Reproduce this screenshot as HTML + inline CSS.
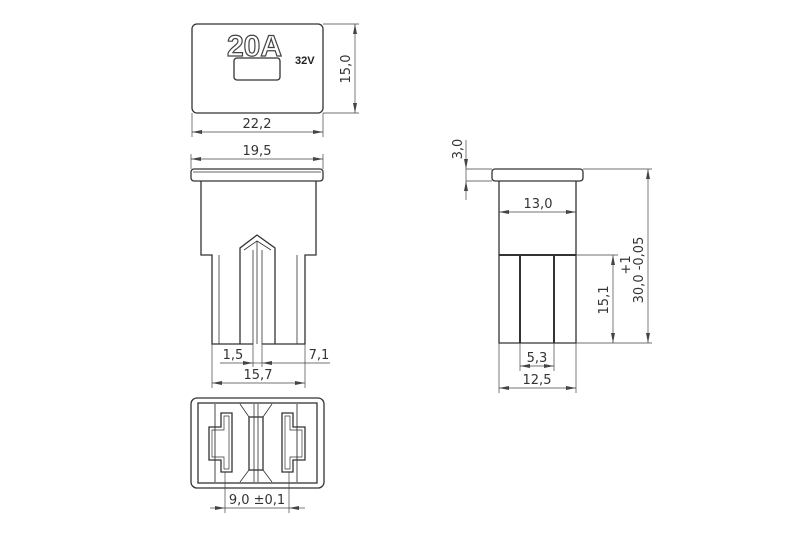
<!DOCTYPE html>
<html><head><meta charset="utf-8"><style>html,body{margin:0;padding:0;background:#fff}svg{display:block}text{font-family:"DejaVu Sans","Liberation Sans",sans-serif;font-size:13px;fill:#333}</style></head><body>
<svg width="800" height="533" viewBox="0 0 800 533" xmlns="http://www.w3.org/2000/svg">
<defs>
<marker id="a" viewBox="0 0 10 4" refX="10" refY="2" markerWidth="10" markerHeight="4" orient="auto-start-reverse" markerUnits="userSpaceOnUse"><path d="M0 0 L10 2 L0 4 Z" fill="#444"/></marker>
</defs>
<g fill="none" stroke="#333" stroke-width="1.3">
<rect x="192" y="24" width="131" height="89" rx="5"/>
<rect x="234" y="58" width="46" height="22" rx="3"/>
<rect x="191" y="169" width="132" height="12" rx="3"/>
<line x1="193" y1="172" x2="321" y2="172" stroke-width="0.7"/>
<path d="M201 181 V255 H212 V344 H253 M262 344 H305 V255 H316 V181"/>
<line x1="219" y1="255" x2="219" y2="344" stroke-width="0.8"/>
<line x1="297" y1="255" x2="297" y2="344" stroke-width="0.8"/>
<path d="M240 344 V248 L257 235 L275 248 V344"/>
<path d="M244 250 L257 241 L271 250 M257 241 V344 M253 250 V344 M262 250 V344" stroke-width="0.8"/>
<rect x="191" y="398" width="133" height="90" rx="6"/>
<rect x="198" y="403" width="119" height="80"/>
<line x1="215" y1="404" x2="215" y2="482" stroke-width="0.9"/>
<line x1="297" y1="404" x2="297" y2="482" stroke-width="0.9"/>
<path d="M221 413 H232 V472 H221 V460 H209 V427 H221 Z"/>
<path d="M224 416 H229 V469 H224 V457 H212 V430 H224 Z" stroke-width="0.7"/>
<path d="M293 413 H282 V472 H293 V460 H305 V427 H293 Z"/>
<path d="M290 416 H285 V469 H290 V457 H302 V430 H290 Z" stroke-width="0.7"/>
<rect x="249" y="417" width="14" height="53"/>
<path d="M240 404 L249 417 M272 404 L263 417 M240 482 L249 470 M272 482 L263 470 M254 404 V482 M258 404 V482" stroke-width="0.8"/>
<rect x="492" y="169" width="91" height="12" rx="3"/>
<path d="M499 181 V343 H576 V181"/>
<line x1="499" y1="255" x2="576" y2="255" stroke-width="2"/>
<line x1="520" y1="255" x2="520" y2="343" stroke-width="2"/>
<line x1="554" y1="255" x2="554" y2="343" stroke-width="2"/>
</g>
<g stroke="#444" stroke-width="0.7" fill="none">
<path d="M323 24 H359 M323 113 H359 M192 113 V137 M323 113 V137"/>
<path d="M191 169 V154 M323 169 V154"/>
<path d="M212 344 V388 M305 344 V388 M253 344 V367 M262 344 V367"/>
<path d="M225 472 V513 M289 472 V513"/>
<path d="M466 169 H492 M466 181 H492"/>
<path d="M576 255 H618 M583 169 H652 M576 343 H652"/>
<path d="M499 343 V393 M576 343 V393 M520 343 V371 M554 343 V371"/>
</g>
<g stroke="#444" stroke-width="0.7" fill="none" marker-start="url(#a)" marker-end="url(#a)">
<line x1="355" y1="24" x2="355" y2="113"/>
<line x1="192" y1="132" x2="323" y2="132"/>
<line x1="191" y1="159" x2="323" y2="159"/>
<line x1="212" y1="383" x2="305" y2="383"/>
<line x1="499" y1="212" x2="576" y2="212"/>
<line x1="613" y1="255" x2="613" y2="343"/>
<line x1="648" y1="169" x2="648" y2="343"/>
<line x1="520" y1="366" x2="554" y2="366"/>
<line x1="499" y1="388" x2="576" y2="388"/>
</g>
<g stroke="#444" stroke-width="0.7" fill="none" marker-end="url(#a)">
<line x1="220" y1="363" x2="253" y2="363"/>
<line x1="330" y1="363" x2="262" y2="363"/>
<line x1="210" y1="508" x2="225" y2="508"/>
<line x1="305" y1="508" x2="289" y2="508"/>
<line x1="466" y1="140" x2="466" y2="169"/>
<line x1="466" y1="200" x2="466" y2="181"/>
</g>
<line x1="253" y1="363" x2="262" y2="363" stroke="#444" stroke-width="0.7"/>
<line x1="225" y1="508" x2="289" y2="508" stroke="#444" stroke-width="0.7"/>
<line x1="466" y1="169" x2="466" y2="181" stroke="#444" stroke-width="0.7"/>
<text x="227" y="56" style="font-family:'Liberation Sans',sans-serif;font-size:30px;font-weight:bold;fill:#fff;stroke:#444;stroke-width:1.2">20A</text>
<text x="295" y="64" style="font-family:'Liberation Sans',sans-serif;font-size:11px;font-weight:bold;fill:#222">32V</text>
<text x="257" y="128" text-anchor="middle">22,2</text>
<text transform="translate(350,69) rotate(-90)" text-anchor="middle">15,0</text>
<text x="257" y="155" text-anchor="middle">19,5</text>
<text x="233" y="359" text-anchor="middle">1,5</text>
<text x="319" y="359" text-anchor="middle">7,1</text>
<text x="258" y="379" text-anchor="middle">15,7</text>
<text x="257" y="504" text-anchor="middle">9,0 ±0,1</text>
<text transform="translate(462,149) rotate(-90)" text-anchor="middle">3,0</text>
<text x="538" y="208" text-anchor="middle">13,0</text>
<text transform="translate(608,300) rotate(-90)" text-anchor="middle">15,1</text>
<text transform="translate(630,265) rotate(-90)" text-anchor="middle">+1</text>
<text transform="translate(643,270) rotate(-90)" text-anchor="middle">30,0 -0,05</text>
<text x="537" y="362" text-anchor="middle">5,3</text>
<text x="537" y="384" text-anchor="middle">12,5</text>
</svg>
</body></html>
